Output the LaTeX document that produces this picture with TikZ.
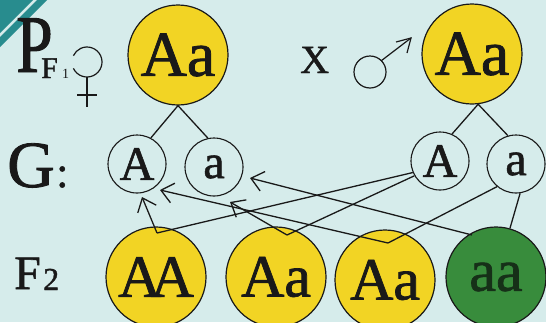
\documentclass[tikz,border=0pt]{standalone}
\usepackage{fontspec}
\setmainfont{Liberation Serif}
\newfontfamily\heavy[FakeBold=1.2]{Liberation Serif}
\newfontfamily\condserif[FakeStretch=0.8,FakeBold=1.2]{Liberation Serif}
\usetikzlibrary{arrows.meta,calc}
\definecolor{bgc}{RGB}{214,236,235}
\definecolor{teal1}{RGB}{40,140,142}
\definecolor{yel}{RGB}{242,212,36}
\definecolor{grn}{RGB}{56,140,60}
\definecolor{ink}{RGB}{25,25,25}
\definecolor{greenink}{RGB}{22,48,24}
\begin{document}
\begin{tikzpicture}[x=1pt,y=-1pt,
  lbl/.style={inner sep=0pt, anchor=base west, text=ink},
  parent/.style={circle, draw=ink, line width=1.2pt, fill=yel, inner sep=0pt, minimum size=100pt, text=ink, font=\heavy\fontsize{64}{64}\selectfont},
  gamete/.style={circle, draw=ink, line width=1.1pt, inner sep=0pt, minimum size=58pt, text=ink, font=\heavy\fontsize{48}{48}\selectfont},
  child/.style={circle, draw=ink, line width=1.2pt, fill=yel, inner sep=0pt, minimum size=100pt, text=ink, font=\heavy\fontsize{60}{60}\selectfont},
  link/.style={draw=ink, line width=1.3pt},
  back/.style={link, -{Straight Barb[length=12pt,width=20pt]}},
  sym/.style={draw=ink, line width=1.2pt},
]
\fill[bgc] (0,0) rectangle (546,322);
\useasboundingbox (0,0) rectangle (546,322);
\fill[teal1] (0,0) -- (33,0) -- (0,33) -- cycle;
\fill[teal1] (37,0) -- (47,0) -- (0,47) -- (0,37) -- cycle;

% labels
\node[lbl, font=\condserif\fontsize{82}{82}\selectfont] (P) at (16,72) {P};
\node[lbl, font=\heavy\fontsize{30}{30}\selectfont] (F) at (41,78) {F};
\node[lbl, font=\fontsize{14}{14}\selectfont] (one) at (62,78) {1};
\node[lbl, font=\heavy\fontsize{40}{40}\selectfont] (X) at (300,73) {X};
\node[lbl, font=\heavy\fontsize{66}{66}\selectfont] (G) at (7,187) {G};
\node[lbl, font=\heavy\fontsize{44}{44}\selectfont] (colon) at (56,187) {:};
\node[lbl, font=\heavy\fontsize{48}{48}\selectfont] (F2) at (14,289) {F};
\node[lbl, font=\heavy\fontsize{32}{32}\selectfont] (two) at (43,290) {2};

% female symbol
\draw[sym] ([shift={(155:15)}]87,62) arc (155:-155:15);
\draw[sym] (87,77) -- (87,107);
\draw[sym] (77,95) -- (97,95);
% male symbol
\draw[sym] (370,72) circle (16pt);
\draw[sym] (381.3,60.7) -- (411,38);
\draw[sym] (396,42) -- (411,38) -- (407,53);

% circles
\node[parent] (pf) at (178,55) {Aa};
\node[parent] (pm) at (472,54) {Aa};
\node[gamete] (fA) at (137,164) {A};
\node[gamete] (fa) at (214,167) {a};
\node[gamete] (mA) at (440,161) {A};
\node[gamete] (ma) at (516,164) {a};
\node[child] (c1) at (156,277) {A\kern-0.18em A};
\node[child] (c2) at (276,277) {Aa};
\node[child] (c3) at (385,280) {Aa};
\node[child, fill=grn, text=greenink] (c4) at (496,277) {aa};

% parents to gametes
\draw[link] (pf.south) -- (fA.62);
\draw[link] (pf.south) -- (fa.102);
\draw[link] (pm.-83) -- (mA.66);
\draw[link] (pm.-83) -- (ma.106);

% contact points
\coordinate (v1) at ($(c1.center)+(1,-44)$);
\coordinate (v2) at ($(c2.center)+(11,-42)$);
\coordinate (v3) at ($(c3.center)+(3,-37)$);
\coordinate (v4) at ($(c4.center)+(-24,-42)$);
\coordinate (t1) at ($(fA.center)+(5,33)$);
\coordinate (t2) at ($(fA.center)+(23,26)$);
\coordinate (t3) at ($(fa.center)+(16,35)$);
\coordinate (t4) at ($(fa.center)+(36,11)$);

% male gametes to F2
\draw[link] (mA.203) -- (v1);
\draw[link] (mA.210) -- (v2);
\draw[link] (ma.230) -- (v3);
\draw[link] (ma.-82) -- (c4.74);

% F2 back to female gametes
\draw[back] (v1) -- (t1);
\draw[back] (v3) -- (t2);
\draw[back] (v2) -- (t3);
\draw[back] (v4) -- (t4);
\end{tikzpicture}
\end{document}
